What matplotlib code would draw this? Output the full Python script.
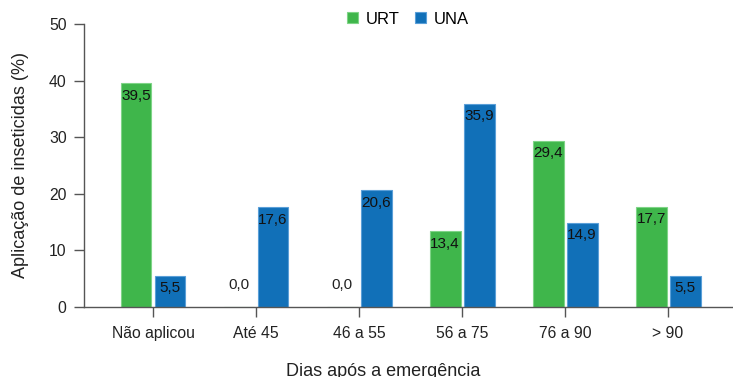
import numpy as np
import matplotlib
matplotlib.use('Agg')
import matplotlib.pyplot as plt

plt.rcParams['font.family'] = ['Liberation Sans', 'DejaVu Sans']

categories = ['Não aplicou', 'Até 45', '46 a 55', '56 a 75', '76 a 90', '> 90']
urt = [39.5, 0.0, 0.0, 13.4, 29.4, 17.7]
una = [5.5, 17.6, 20.6, 35.9, 14.9, 5.5]
series = [('URT', urt, '#3fb64b', '#7fd487'), ('UNA', una, '#1170b8', '#5a9fd8')]

fig = plt.figure(figsize=(7.33, 3.77), dpi=100)
ax = fig.add_axes([84 / 733, 70 / 377, 1 - 84 / 733, 283 / 377])

x = np.arange(len(categories))
width = 0.30
offsets = [-0.165, 0.165]

for (name, vals, color, edge), off in zip(series, offsets):
    bars = ax.bar(x + off, vals, width, color=color, edgecolor=edge,
                  linewidth=0.8, label=name)
    for b, v in zip(bars, vals):
        txt = f'{v:.1f}'.replace('.', ',')
        cx = b.get_x() + b.get_width() / 2
        if v > 0:
            ax.annotate(txt, (cx, v), xytext=(0, -4), textcoords='offset points',
                        ha='center', va='top', fontsize=11, color='#111111')
        else:
            ax.annotate(txt, (cx, 0), xytext=(0, 11), textcoords='offset points',
                        ha='center', va='bottom', fontsize=11, color='#222222')

ax.set_xlim(-0.67, 5.63)
ax.set_ylim(0, 50)
ax.set_yticks([0, 10, 20, 30, 40, 50])
ax.set_xticks(x)
ax.set_xticklabels(categories)

for s in ['top', 'right']:
    ax.spines[s].set_visible(False)
for s in ['left', 'bottom']:
    ax.spines[s].set_color('#555555')
    ax.spines[s].set_linewidth(1.0)
ax.tick_params(axis='both', length=7.5, width=1.0, color='#555555',
               labelsize=11.3, labelcolor='#222222', pad=5)
ax.tick_params(axis='x', pad=6)

ax.set_ylabel('Aplicação de inseticidas (%)', fontsize=13, color='#222222', labelpad=14)
fig.text(383 / 733, 6 / 377, 'Dias após a emergência', ha='center', va='center',
         fontsize=13, color='#222222')

ax.legend(loc='upper center', bbox_to_anchor=(408 / 733, 1.0),
          bbox_transform=fig.transFigure, ncol=2, frameon=False, fontsize=12,
          handlelength=0.65, handleheight=0.65, handletextpad=0.45, columnspacing=0.95,
          borderaxespad=0.3)

fig.savefig('out.png', dpi=100)
